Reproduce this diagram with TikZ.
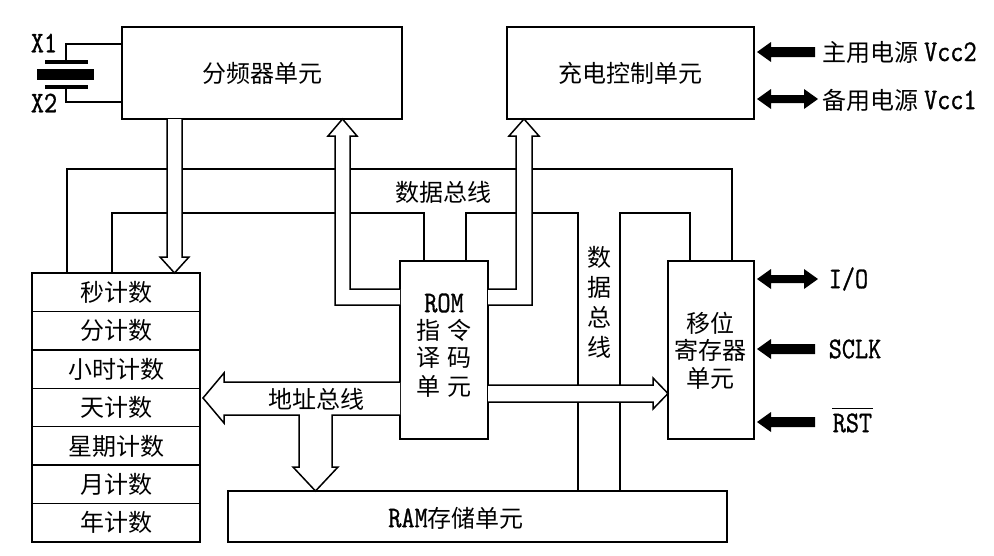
\documentclass[tikz,border=0pt]{standalone}
\usepackage{fontspec}
\newfontfamily\cjk{Noto Sans CJK SC}
\newfontfamily\mono[FakeStretch=0.85,FakeBold=1]{Latin Modern Mono}
\newcommand{\latsz}{\mono\fontsize{30}{30}\selectfont}
\begin{document}
\begin{tikzpicture}[x=1pt,y=-1pt,line width=1.5pt,line join=miter,
  box/.style={draw,inner sep=0pt,outer sep=0pt},
  zh/.style={font=\cjk\fontsize{24}{24}\selectfont,inner sep=0pt},
  lat/.style={font=\latsz,inner sep=0pt},
  hollow/.style={draw,fill=white},
  thk/.style={fill=black,draw=none}]
\useasboundingbox (0,0) rectangle (994,555);
% boxes
\node[box,zh,minimum width=280pt,minimum height=92pt] (fp) at (262,73) {分频器单元};
\node[box,zh,minimum width=247pt,minimum height=92pt] (cd) at (630.5,73) {充电控制单元};
\node[box,minimum width=88pt,minimum height=178pt] (rom) at (444,350) {};
\node[box,minimum width=86pt,minimum height=178pt] (sr) at (711,350) {};
\node[box,minimum width=499pt,minimum height=51pt] (ram) at (477.5,516.5) {};
\node[zh,anchor=center] (ramt) at (456,518) {{\latsz RAM}存储单元};
% counter stack
\foreach \t [count=\i from 0] in {秒计数,分计数,小时计数,天计数,星期计数,月计数,年计数}{
  \node[box,zh,minimum width=168pt,minimum height=38.43pt] (cnt\i) at (116,{273+38.43*(\i+0.5)}) {\t};
}
% ROM text
\node[lat] (romt1) at (444,303) {ROM};
\node[zh] (romt2) at (444,330) {指\hspace{8pt}令};
\node[zh] (romt3) at (444,358) {译\hspace{8pt}码};
\node[zh] (romt4) at (444,386) {单\hspace{8pt}元};
% shift register text
\node[zh] (srt1) at (710,323) {移位};
\node[zh] (srt2) at (710,350) {寄存器};
\node[zh] (srt3) at (710,378) {单元};
% data bus lines
\draw (67,0 |- cnt0.north) -- (67,169) -- (732,169) -- (732,0 |- sr.north);
\draw (112,0 |- cnt0.north) -- (112,213) -- (424,213) -- (424,0 |- rom.north);
\draw (466,0 |- rom.north) -- (466,213) -- (578,213) -- (578,0 |- ram.north);
\draw (620,0 |- ram.north) -- (620,213) -- (690,213) -- (690,0 |- sr.north);
% hollow arrows
\filldraw[hollow] (167,0 |- fp.south) -- (167,257) -- (160,257) -- (174.5,0 |- cnt0.north) -- (189,257) -- (182,257) -- (182,0 |- fp.south);
\filldraw[hollow] (rom.west |- 0,305) -- (335,305) -- (335,136) -- (328,136) -- (342.5,0 |- fp.south) -- (357,136) -- (350,136) -- (350,289) -- (rom.west |- 0,289);
\filldraw[hollow] (rom.east |- 0,305) -- (532,305) -- (532,136) -- (539,136) -- (524,0 |- cd.south) -- (509,136) -- (516,136) -- (516,289) -- (rom.east |- 0,289);
\filldraw[hollow] (rom.east |- 0,385) -- (653,385) -- (653,378) -- (sr.west |- 0,393.5) -- (653,409) -- (653,402) -- (rom.east |- 0,402);
\filldraw[hollow] (rom.west |- 0,382) -- (224,382) -- (224,373) -- (203,398) -- (224,423) -- (224,415) -- (299,415) -- (299,467) -- (293,467) -- (315.5,0 |- ram.north) -- (338,467) -- (332,467) -- (332,415) -- (rom.west |- 0,415);
% bus labels
\node[zh] (db1) at (443,192) {数据总线};
\node[zh] (ab) at (316,399) {地址总线};
\node[zh] (db2a) at (599,257) {数};
\node[zh] (db2b) at (599,287) {据};
\node[zh] (db2c) at (599,317) {总};
\node[zh] (db2d) at (599,347) {线};
% crystal
\draw (fp.west |- 0,44) -- (66,44) -- (66,62);
\fill (45,60) rectangle (88,64);
\fill (37,69) rectangle (94,80);
\fill (45,85) rectangle (88,89);
\draw (66,87) -- (66,102) -- (fp.west |- 0,102);
\node[lat] (x1) at (44,43) {X1};
\node[lat] (x2) at (44,103) {X2};
% thick arrows and labels on the right
\fill[thk,shift={(cd.east |- 0,52)}] (3,0) -- ++(14,-10) -- ++(0,5) -- ++(44,0) -- ++(0,10) -- ++(-44,0) -- ++(0,5) -- cycle;
\fill[thk,shift={(cd.east |- 0,99)}] (3,0) -- ++(14,-10) -- ++(0,6) -- ++(33,0) -- ++(0,-6) -- ++(14,10) -- ++(-14,10) -- ++(0,-6) -- ++(-33,0) -- ++(0,6) -- cycle;
\fill[thk,shift={(sr.east |- 0,279)}] (3,0) -- ++(14,-10) -- ++(0,6) -- ++(33,0) -- ++(0,-6) -- ++(14,10) -- ++(-14,10) -- ++(0,-6) -- ++(-33,0) -- ++(0,6) -- cycle;
\fill[thk,shift={(sr.east |- 0,349)}] (3,0) -- ++(14,-10) -- ++(0,5) -- ++(44,0) -- ++(0,10) -- ++(-44,0) -- ++(0,5) -- cycle;
\fill[thk,shift={(sr.east |- 0,422)}] (3,0) -- ++(14,-10) -- ++(0,5) -- ++(44,0) -- ++(0,10) -- ++(-44,0) -- ++(0,5) -- cycle;
\node[zh,anchor=west] (vcc2) at (822,52) {主用电源 {\latsz Vcc2}};
\node[zh,anchor=west] (vcc1) at (822,100) {备用电源 {\latsz Vcc1}};
\node[lat,anchor=west] (io) at (828,279) {I/O};
\node[lat,anchor=west] (sclk) at (828,349) {SCLK};
\node[lat,anchor=west] (rst) at (832,423) {RST};
\draw[line width=1.2pt] ([yshift=4pt]rst.north west) -- ([yshift=4pt]rst.north east);
\end{tikzpicture}
\end{document}
